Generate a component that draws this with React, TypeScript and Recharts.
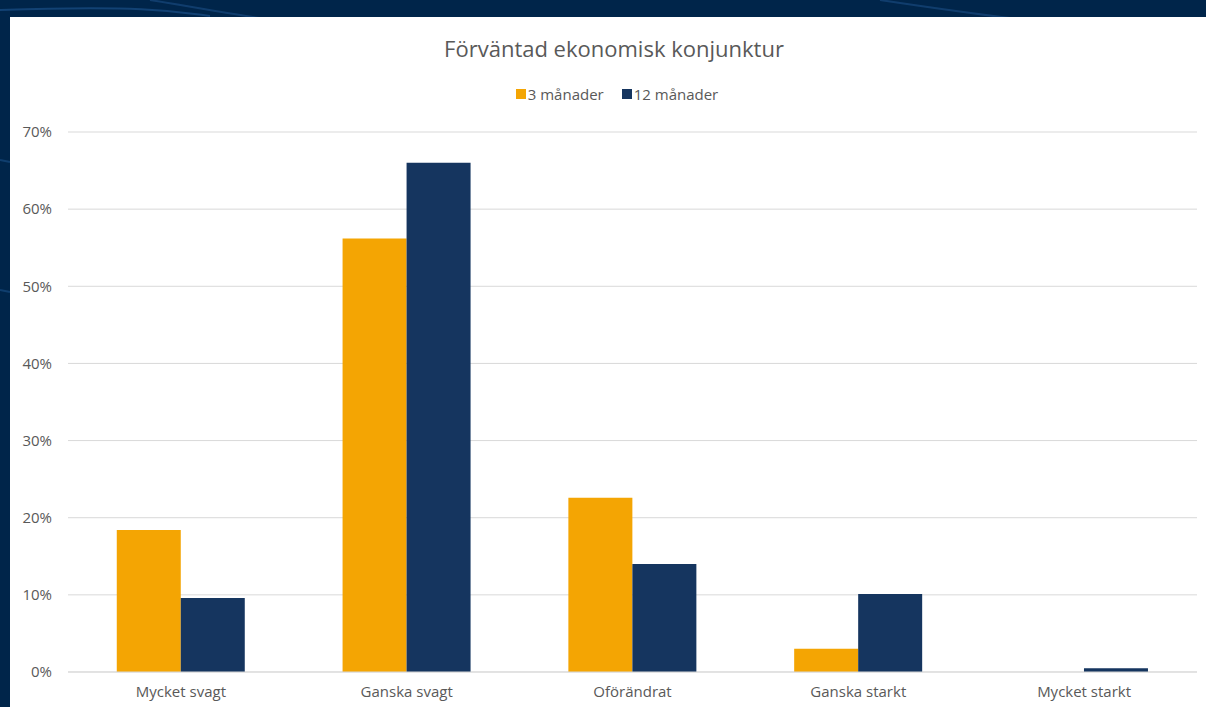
import React from 'react';
import { BarChart, Bar, XAxis, YAxis, CartesianGrid } from 'recharts';

// Förväntad ekonomisk konjunktur — share of respondents (%)
const categories = ['Mycket svagt', 'Ganska svagt', 'Oförändrat', 'Ganska starkt', 'Mycket starkt'];
const threeMonths = [18.4, 56.2, 22.6, 3.0, 0];
const twelveMonths = [9.6, 66.0, 14.0, 10.1, 0.5];
const yTicks = [0, 10, 20, 30, 40, 50, 60, 70];

const series = [
  { key: 'm3', name: '3 månader', color: '#f4a503' },
  { key: 'm12', name: '12 månader', color: '#15355f' },
];

const data = categories.map((c, i) => ({
  name: c,
  m3: threeMonths[i],
  m12: twelveMonths[i],
}));

const FONT = '"Open Sans", "Liberation Sans", sans-serif';
const TEXT = '#595959';

export default function App() {
  return (
    <div
      style={{
        position: 'fixed',
        left: 0,
        top: 0,
        width: 1206,
        height: 707,
        overflow: 'hidden',
        background: '#00254a',
        fontFamily: FONT,
      }}
    >
      {/* faint decorative streaks of the slide background */}
      <svg width={1206} height={707} style={{ position: 'absolute', left: 0, top: 0 }}>
        <path d="M0 10 C 150 5, 180 12, 210 16" stroke="#1a4f86" strokeWidth={2} fill="none" opacity={0.7} />
        <path d="M150 0 C 200 8, 230 14, 260 18" stroke="#1a4f86" strokeWidth={2} fill="none" opacity={0.6} />
        <path d="M880 0 C 920 6, 960 12, 1010 18" stroke="#1a4f86" strokeWidth={2} fill="none" opacity={0.6} />
        <path d="M0 160 L 10 162" stroke="#1a4f86" strokeWidth={2} opacity={0.6} />
        <path d="M0 290 L 10 292" stroke="#1a4f86" strokeWidth={2} opacity={0.6} />
      </svg>
      <div
        style={{
          position: 'absolute',
          left: 10,
          top: 17,
          width: 1196,
          height: 690,
          background: '#ffffff',
        }}
      >
        <div
          style={{
            position: 'absolute',
            left: 0,
            top: 16,
            width: 1208,
            textAlign: 'center',
            fontSize: 22,
            color: TEXT,
          }}
        >
          Förväntad ekonomisk konjunktur
        </div>
        <div
          style={{
            position: 'absolute',
            left: 0,
            top: 67,
            width: 1214,
            display: 'flex',
            justifyContent: 'center',
            gap: 18,
            fontSize: 15,
            color: TEXT,
          }}
        >
          {series.map((s) => (
            <span key={s.key} style={{ display: 'flex', alignItems: 'center' }}>
              <span style={{ width: 10, height: 10, background: s.color, marginRight: 2, display: 'inline-block' }} />
              {s.name}
            </span>
          ))}
        </div>
        <BarChart
          width={1196}
          height={690}
          data={data}
          margin={{ top: 115, right: 9, left: 0, bottom: 5 }}
          barCategoryGap="21.6%"
          barGap={0}
        >
          <CartesianGrid vertical={false} stroke="#d9d9d9" />
          <XAxis
            dataKey="name"
            height={30}
            tickLine={false}
            axisLine={{ stroke: '#d9d9d9' }}
            tick={{ fontSize: 15, fill: TEXT, fontFamily: FONT }}
            tickMargin={8}
          />
          <YAxis
            width={58}
            domain={[0, 70]}
            ticks={yTicks}
            interval={0}
            tickFormatter={(v: number) => `${v}%`}
            axisLine={false}
            tickLine={false}
            tick={{ fontSize: 15, fill: TEXT, fontFamily: FONT }}
            tickMargin={10}
          />
          {series.map((s) => (
            <Bar key={s.key} dataKey={s.key} name={s.name} fill={s.color} isAnimationActive={false} />
          ))}
        </BarChart>
      </div>
    </div>
  );
}
